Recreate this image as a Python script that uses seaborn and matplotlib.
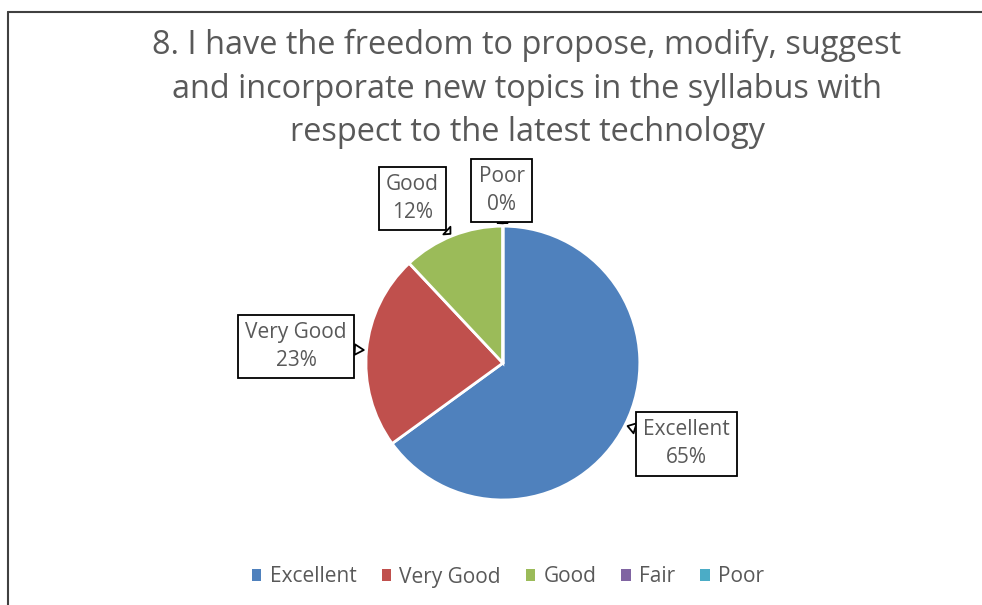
import numpy as np
import seaborn as sns
import matplotlib.pyplot as plt
from matplotlib.lines import Line2D
from matplotlib.patches import Patch

categories = ['Excellent', 'Very Good', 'Good', 'Fair', 'Poor']
shares = [65, 23, 12, 0, 0]
colors = ['#4F81BD', '#C0504D', '#9BBB59', '#8064A2', '#4BACC6']
title = ('8. I have the freedom to propose, modify, suggest\n'
         'and incorporate new topics in the syllabus with\n'
         'respect to the latest technology')

# which slices get a callout, and where the box sits (axes data units)
callouts = {
    'Excellent': (1.34, -0.59),
    'Very Good': (-1.51, 0.12),
    'Good': (-0.66, 1.20),
    'Poor': (-0.01, 1.26),
}

sns.set_theme(style='white')
plt.rcParams['font.family'] = ['Open Sans', 'DejaVu Sans']
txt_color = '#595959'

fig = plt.figure(figsize=(9.82, 6.05), dpi=100)
ax = fig.add_axes([0.2611, -0.0076, 0.502, 0.815])

wedges, _ = ax.pie(shares, colors=colors, startangle=90, counterclock=False,
                   radius=1, wedgeprops=dict(edgecolor='white', linewidth=2))
ax.set_xlim(-1.8, 1.8)
ax.set_ylim(-1.8, 1.8)
ax.set_aspect('equal')
ax.axis('off')

for w, name, val in zip(wedges, categories, shares):
    if name not in callouts:
        continue
    mid = np.deg2rad((w.theta1 + w.theta2) / 2)
    tip = (np.cos(mid) * 1.0, np.sin(mid) * 1.0)
    ax.annotate(f'{name}\n{val}%', xy=tip, xytext=callouts[name],
                ha='center', va='center', fontsize=15, color=txt_color,
                linespacing=1.42,
                bbox=dict(boxstyle='square,pad=0.35', fc='white', ec='black', lw=1.3),
                arrowprops=dict(arrowstyle='wedge,tail_width=0.5', fc='white',
                                ec='black', lw=1.3, shrinkA=0, shrinkB=2))

fig.text(527 / 982, 1 - 29 / 605, title, ha='center', va='top',
         fontsize=23.4, color=txt_color, linespacing=1.42)

handles = [Patch(facecolor=c, edgecolor='none') for c in colors]
fig.legend(handles, categories, loc='center', bbox_to_anchor=(508 / 982, 1 - 577 / 605),
           ncol=5, frameon=False, fontsize=15, handlelength=0.45, handleheight=0.45,
           handletextpad=0.4, columnspacing=1.2, labelcolor=txt_color)

# chart frame edges visible in the crop
fig.add_artist(Line2D([8 / 982, 1], [1 - 12 / 605] * 2, color='#404040', lw=1.5))
fig.add_artist(Line2D([8 / 982] * 2, [0, 1 - 12 / 605], color='#404040', lw=1.5))

fig.savefig('out.png', dpi=100, facecolor='white')
